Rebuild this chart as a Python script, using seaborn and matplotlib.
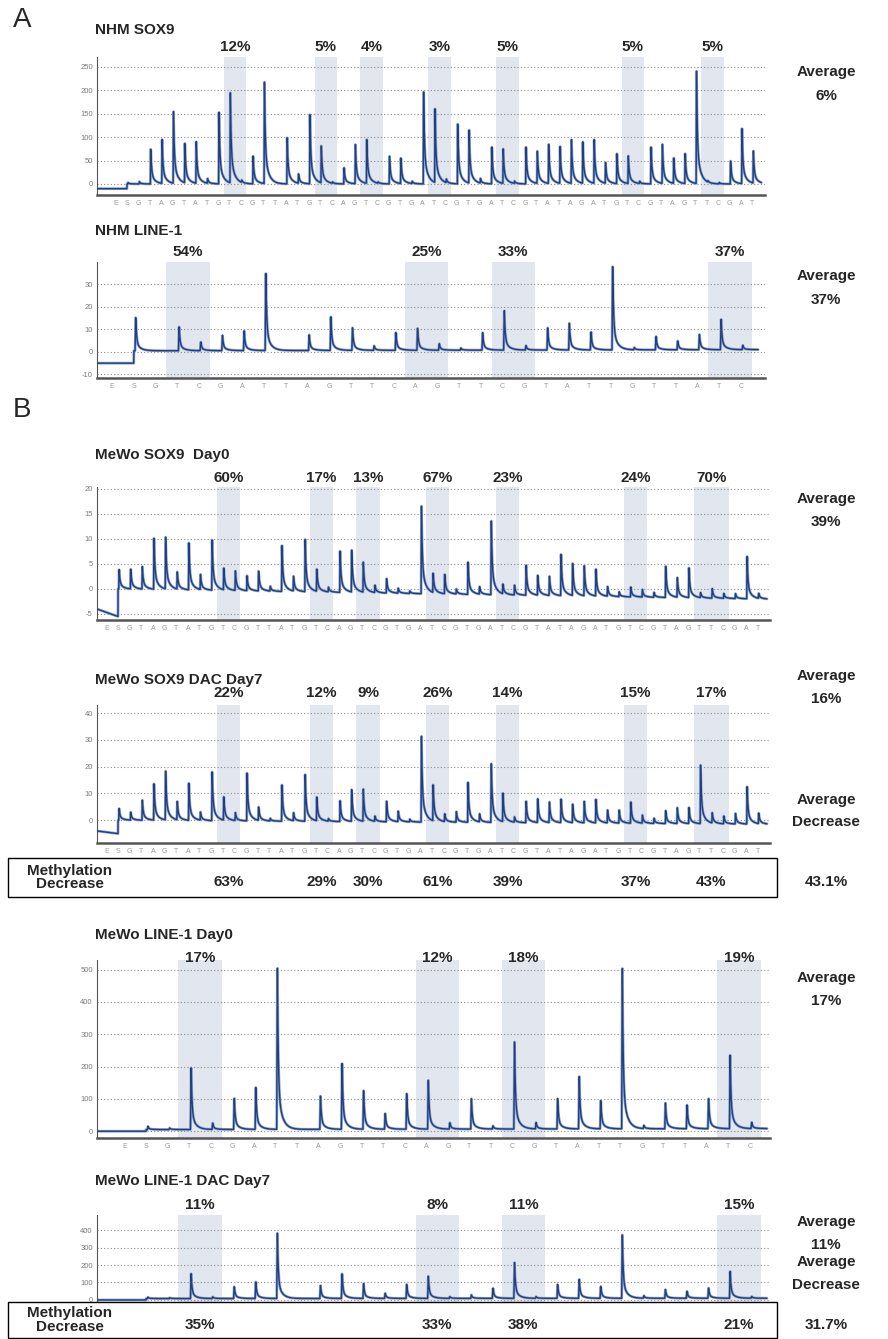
import numpy as np
import pandas as pd
import matplotlib
matplotlib.use("Agg")
import matplotlib.pyplot as plt
from matplotlib.patches import Rectangle
import seaborn as sns

sns.set_theme(style="white")
plt.rcParams['font.family'] = ['Liberation Sans', 'DejaVu Sans']

W, H = 888, 1339

# ---------------- data ----------------
sox9_disp = list("ESGTAGTATGTCGTTATGTCAGTCGTGATCGTGATCGTATAGATGTCGTAGTTCGAT")
line1_disp = list("ESGTCGATTAGTTCAGTTCGTATTGTTATC")

nhm_sox9 = [0, 3, 5, 75, 95, 155, 85, 90, 10, 155, 195, 5, 60, 220, 0, 100, 20, 150, 80, 3,
            35, 85, 95, 3, 60, 55, 5, 200, 160, 8, 130, 115, 10, 80, 75, 5, 80, 70, 85, 80,
            95, 90, 95, 45, 65, 60, 5, 80, 85, 55, 65, 245, 3, 3, 50, 120, 70]
nhm_line1 = [0, 15, 0, 11, 4, 7, 9, 35, 0, 7, 15, 10, 2, 8, 10, 3, 1, 8, 18, 2,
             10, 12, 8, 37, 1, 6, 4, 7, 14, 2]
d0_sox9 = [0, 4, 4, 4.5, 10.5, 10.8, 3.5, 9.5, 3, 10.5, 4.5, 4, 3, 4, 1, 9.5, 3, 10.5, 4.5, 1,
           8.5, 8.5, 6, 1.5, 3, 1, 0.5, 17.5, 4, 4, 1, 6.5, 1.5, 15.5, 2, 2, 6, 4, 4, 8.5,
           6.5, 6, 5.5, 2, 1, 2, 1.5, 1, 6.5, 4, 6, 1, 2, 1, 1, 8.5, 1]
d7_sox9 = [0, 4.5, 3, 7.5, 14, 19, 7, 14, 3, 19, 9, 3, 18, 5, 1, 14, 3, 17.5, 9, 1,
           8, 12, 12, 2, 8, 4, 1, 32, 14, 3, 4, 15, 3, 23, 11, 2, 8, 9, 8, 9,
           7, 8, 9, 5, 5, 8, 3, 2, 5, 6, 6, 22, 4, 3, 4, 14, 4]
d0_line1 = [0, 10, 5, 195, 20, 100, 130, 515, 0, 105, 210, 120, 50, 110, 155, 20, 95, 10, 270, 20,
            95, 165, 90, 500, 10, 80, 75, 95, 230, 20]
d7_line1 = [0, 8, 5, 145, 10, 70, 95, 385, 0, 75, 145, 85, 30, 80, 130, 10, 20, 60, 205, 10,
            80, 110, 70, 365, 15, 50, 40, 60, 155, 10]

sox9_cpg = [(10, 11), (18, 19), (22, 23), (28, 29), (34, 35), (45, 46), (52, 53)]
sox9_cpg_mewo = [(10, 11), (18, 19), (22, 23), (28, 29), (34, 35), (45, 46), (51, 53)]
line1_cpg = [(3, 4), (14, 15), (18, 19), (28, 29)]

nhm_sox9_pct = ["12%", "5%", "4%", "3%", "5%", "5%", "5%"]
nhm_line1_pct = ["54%", "25%", "33%", "37%"]
d0_sox9_pct = ["60%", "17%", "13%", "67%", "23%", "24%", "70%"]
d7_sox9_pct = ["22%", "12%", "9%", "26%", "14%", "15%", "17%"]
sox9_decrease = ["63%", "29%", "30%", "61%", "39%", "37%", "43%"]
d0_line1_pct = ["17%", "12%", "18%", "19%"]
d7_line1_pct = ["11%", "8%", "11%", "15%"]
line1_decrease = ["35%", "33%", "38%", "21%"]
averages = ["6%", "37%", "39%", "16%", "17%", "11%"]
avg_decrease = ["43.1%", "31.7%"]

titles = ["NHM SOX9", "NHM LINE-1", "MeWo SOX9  Day0", "MeWo SOX9 DAC Day7",
          "MeWo LINE-1 Day0", "MeWo LINE-1 DAC Day7"]

# ---------------- figure ----------------
fig = plt.figure(figsize=(W / 100, H / 100), dpi=100)
fig.patch.set_facecolor("white")

LINE_C = "#213f7e"
HALO_C = "#8fa6cf"
BAND_C = "#e2e7ef"
GRAY = "#7a7a7a"


def px_ax(left, top, right, bottom):
    return fig.add_axes([left / W, 1 - bottom / H, (right - left) / W, (bottom - top) / H])


def ftext(x, y, s, **kw):
    return fig.text(x / W, 1 - y / H, s, **kw)


def panel(spec):
    ax = px_ax(spec["left"], spec["top"], spec["right"], spec["bottom"])
    x0, sp = spec["x0"], spec["sp"]
    lo = (spec["left"] - x0) / sp
    hi = (spec["right"] - x0) / sp
    heights = spec["h"]
    n = len(heights)
    x = np.linspace(lo, n - 0.2, 9000)
    jump = spec["jump"]
    pa, pb = spec["pre"]
    y = np.where(x < jump, pa + (pb - pa) * (x - lo) / (jump - lo),
                 spec["b0"] + (spec["b1"] - spec["b0"]) * (x - jump) / (n - 1 - jump))
    t1, t2, a2 = spec["shape"]
    for i, hgt in enumerate(heights):
        d = x - (i + 0.06)
        rise = 0.03
        f = np.where(d < 0, 0.0,
                     np.where(d < rise, d / rise,
                              (1 - a2) * np.exp(-(d - rise) / t1) + a2 * np.exp(-(d - rise) / t2)))
        y = y + hgt * f
    df = pd.DataFrame({"disp": x, "signal": y})
    for (a, b) in spec["cpg"]:
        ax.axvspan(a - 0.5, b + 0.5, ymin=0, ymax=1.0, color=BAND_C, zorder=0, lw=0)
    sns.lineplot(data=df, x="disp", y="signal", ax=ax, color=HALO_C, lw=2.0, zorder=2)
    sns.lineplot(data=df, x="disp", y="signal", ax=ax, color=LINE_C, lw=1.0, zorder=3)
    ax.set_xlim(lo, hi)
    ax.set_ylim(spec["ylo"], spec["yhi"])
    ax.set_yticks(spec["yticks"])
    ax.set_yticklabels([str(t) for t in spec["yticks"]], fontsize=5.5, color=GRAY)
    for t in spec["yticks"]:
        ax.axhline(t, xmin=0, xmax=1, color="#8a8a8a", lw=0.8, ls=(0, (1, 2)), zorder=1)
    ax.set_xticks(range(n))
    ax.set_xticklabels(spec["letters"], fontsize=5, color="#9a9a9a")
    ax.tick_params(axis="x", length=3, width=0.8, color="#555555", pad=2, direction="inout")
    ax.tick_params(axis="y", length=2, width=0.6, color="#777777", pad=1)
    for s in ["top", "right"]:
        ax.spines[s].set_visible(False)
    ax.spines["left"].set_color("#555555")
    ax.spines["left"].set_linewidth(0.8)
    ax.spines["bottom"].set_color("#555555")
    ax.spines["bottom"].set_linewidth(1.8)
    ax.set_xlabel("")
    ax.set_ylabel("")
    ax.patch.set_alpha(0)
    for (a, b), p in zip(spec["cpg"], spec["pct"]):
        cx = x0 + sp * ((a + b) / 2)
        ftext(cx, spec["pct_y"], p, fontsize=11, fontweight="bold", ha="center", va="center")
    ftext(spec["left"] - 2, spec["title_y"], spec["title"], fontsize=11, fontweight="bold",
          ha="left", va="center")
    return ax


specs = [
    dict(left=97, top=57, right=765, bottom=195, x0=115.6, sp=11.37, h=nhm_sox9,
         letters=sox9_disp, cpg=sox9_cpg, pct=nhm_sox9_pct, ylo=-23.5, yhi=271,
         yticks=[0, 50, 100, 150, 200, 250], jump=1.0, pre=(-10, -10), b0=0, b1=0,
         shape=(0.07, 0.35, 0.3), pct_y=47, title=titles[0], title_y=30),
    dict(left=97, top=262, right=765, bottom=378, x0=112.1, sp=21.68, h=nhm_line1,
         letters=line1_disp, cpg=line1_cpg, pct=nhm_line1_pct, ylo=-11.6, yhi=40,
         yticks=[-10, 0, 10, 20, 30], jump=1.0, pre=(-5, -5), b0=0.5, b1=1.0,
         shape=(0.04, 0.2, 0.25), pct_y=252, title=titles[1], title_y=231),
    dict(left=97, top=487, right=770, bottom=620, x0=106.4, sp=11.63, h=d0_sox9,
         letters=sox9_disp, cpg=sox9_cpg_mewo, pct=d0_sox9_pct, ylo=-6.2, yhi=20.4,
         yticks=[-5, 0, 5, 10, 15, 20], jump=1.0, pre=(-4, -5.5), b0=0, b1=-2,
         shape=(0.07, 0.35, 0.3), pct_y=478, title=titles[2], title_y=455),
    dict(left=97, top=705, right=770, bottom=843, x0=106.4, sp=11.63, h=d7_sox9,
         letters=sox9_disp, cpg=sox9_cpg_mewo, pct=d7_sox9_pct, ylo=-8.5, yhi=43,
         yticks=[0, 10, 20, 30, 40], jump=1.0, pre=(-4, -5), b0=0, b1=-1.5,
         shape=(0.07, 0.35, 0.3), pct_y=693, title=titles[3], title_y=680),
    dict(left=97, top=960, right=770, bottom=1138, x0=124.5, sp=21.56, h=d0_line1,
         letters=line1_disp, cpg=line1_cpg, pct=d0_line1_pct, ylo=-21, yhi=530,
         yticks=[0, 100, 200, 300, 400, 500], jump=1.0, pre=(0, 0), b0=5, b1=8,
         shape=(0.04, 0.2, 0.25), pct_y=958, title=titles[4], title_y=935),
    dict(left=97, top=1215, right=770, bottom=1304, x0=124.5, sp=21.56, h=d7_line1,
         letters=line1_disp, cpg=line1_cpg, pct=d7_line1_pct, ylo=-23, yhi=486,
         yticks=[0, 100, 200, 300, 400], jump=1.0, pre=(0, 0), b0=8, b1=10,
         shape=(0.04, 0.2, 0.25), pct_y=1205, title=titles[5], title_y=1181),
]

axes = [panel(s) for s in specs]

# averages
avg_y = [(72, 96), (276, 300), (499, 522), (676, 699), (978, 1001), (1222, 1245)]
for (ya, yb), a in zip(avg_y, averages):
    ftext(826, ya, "Average", fontsize=11, fontweight="bold", ha="center", va="center")
    ftext(826, yb, a, fontsize=11, fontweight="bold", ha="center", va="center")

# panel letters
ftext(22, 20, "A", fontsize=20, ha="center", va="center")
ftext(22, 410, "B", fontsize=20, ha="center", va="center")

# methylation decrease boxes
boxes = [(858, 897, specs[3], sox9_cpg_mewo, sox9_decrease, 800, 822, avg_decrease[0]),
         (1302, 1338, specs[5], line1_cpg, line1_decrease, 1262, 1285, avg_decrease[1])]
for (yt, yb, sp_, cpg, vals, ya, yd, avgd) in boxes:
    rect = Rectangle((8 / W, 1 - yb / H), (777 - 8) / W, (yb - yt) / H, transform=fig.transFigure,
                     facecolor="white", ec="black", lw=1.0, zorder=5)
    fig.patches.append(rect)
    ym = (yt + yb) / 2
    ftext(70, ym, "Methylation\nDecrease", fontsize=11, fontweight="bold", ha="center",
          va="center", linespacing=0.95, zorder=6)
    for (a, b), v in zip(cpg, vals):
        cx = sp_["x0"] + sp_["sp"] * ((a + b) / 2)
        ftext(cx, ym + 5, v, fontsize=11, fontweight="bold", ha="center", va="center", zorder=6)
    ftext(826, ya, "Average", fontsize=11, fontweight="bold", ha="center", va="center")
    ftext(826, yd, "Decrease", fontsize=11, fontweight="bold", ha="center", va="center")
    ftext(826, ym + 5, avgd, fontsize=11, fontweight="bold", ha="center", va="center")

fig.savefig("out.png", dpi=100, facecolor="white")
